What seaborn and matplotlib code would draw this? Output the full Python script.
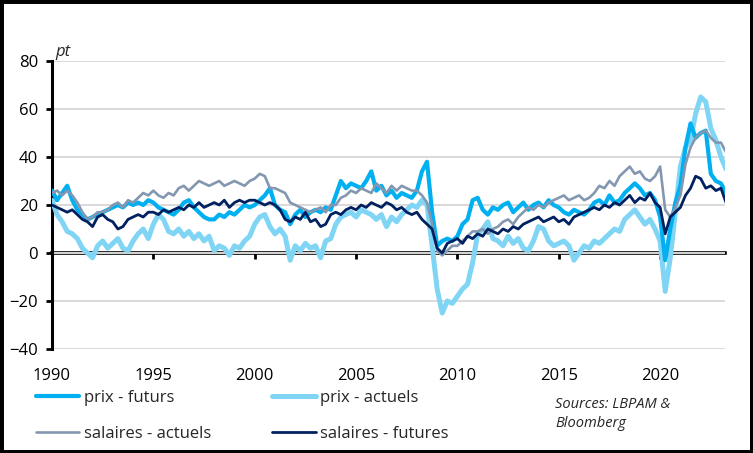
import numpy as np
import pandas as pd
import matplotlib
matplotlib.use("Agg")
import matplotlib.pyplot as plt
from matplotlib.patches import Rectangle
from matplotlib.lines import Line2D
import seaborn as sns

# ---------------- data (quarterly readings, 1990Q1 .. 2023Q2) ----------------
start_year = 1990
prix_futurs = [26, 22, 25, 28, 22, 18, 16, 14, 15, 16, 17, 18, 19, 20, 19, 21,
               20, 21, 20, 22, 21, 19, 18, 17, 16, 18, 21, 22, 19, 17, 15, 14,
               14, 16, 15, 17, 16, 18, 20, 19, 20, 22, 24, 27, 20, 18, 17, 12,
               16, 18, 15, 17, 18, 17, 19, 18, 24, 30, 27, 29, 28, 27, 30, 34,
               26, 28, 24, 26, 23, 25, 24, 23, 26, 34, 38, 17, 3, 5, 6, 5,
               7, 12, 14, 22, 23, 18, 16, 19, 18, 20, 21, 17, 19, 21, 18, 20,
               21, 19, 22, 20, 19, 17, 16, 18, 17, 16, 18, 21, 22, 20, 24, 21,
               22, 25, 27, 29, 27, 24, 25, 22, 15, -3, 10, 21, 28, 44, 54, 48,
               50, 51, 33, 30, 29, 25]
prix_actuels = [22, 16, 13, 9, 8, 6, 2, 0, -2, 3, 5, 2, 4, 6, 2, 1,
                5, 8, 10, 6, 12, 16, 14, 9, 8, 10, 7, 9, 6, 8, 5, 7,
                1, 3, 2, -1, 3, 2, 5, 7, 12, 15, 16, 11, 8, 10, 7, -3,
                3, 1, 4, 2, 3, -2, 5, 6, 12, 15, 16, 17, 15, 18, 17, 16,
                14, 16, 11, 15, 13, 16, 18, 20, 19, 22, 20, 3, -15, -25, -20, -21,
                -18, -15, -13, -4, 8, 10, 13, 6, 5, 3, 7, 4, 6, 2, 1, 5,
                11, 10, 5, 3, 4, 5, 3, -3, 0, 3, 2, 5, 4, 6, 8, 10,
                9, 14, 16, 18, 15, 12, 14, 10, 5, -16, -2, 17, 36, 44, 47, 58,
                65, 63, 52, 47, 40, 35]
salaires_actuels = [25, 26, 24, 26, 24, 21, 17, 14, 15, 17, 17, 18, 20, 21, 19, 22,
                    21, 23, 25, 24, 26, 24, 23, 25, 24, 27, 28, 26, 28, 30, 29, 28,
                    29, 30, 28, 29, 30, 29, 28, 30, 31, 33, 32, 27, 27, 26, 25, 21,
                    20, 19, 18, 17, 18, 19, 17, 20, 20, 23, 24, 26, 25, 27, 26, 25,
                    29, 27, 25, 28, 26, 28, 27, 26, 26, 24, 21, 12, 1, -1, 1, 3,
                    3, 5, 7, 9, 9, 10, 8, 10, 11, 13, 14, 12, 15, 17, 19, 18,
                    20, 19, 21, 22, 23, 24, 22, 23, 24, 22, 23, 25, 28, 27, 30, 28,
                    32, 34, 36, 33, 34, 31, 30, 32, 36, 18, 15, 19, 24, 37, 44, 48,
                    50, 51, 48, 46, 46, 42]
salaires_futures = [20, 19, 18, 17, 18, 16, 14, 13, 11, 15, 16, 14, 13, 10, 11, 14,
                    15, 16, 15, 17, 17, 16, 18, 17, 18, 19, 18, 20, 19, 21, 19, 20,
                    21, 20, 22, 19, 21, 22, 21, 22, 22, 21, 20, 21, 20, 18, 14, 13,
                    15, 14, 17, 13, 14, 11, 12, 16, 17, 16, 18, 19, 18, 20, 19, 21,
                    20, 19, 21, 20, 18, 19, 17, 16, 17, 14, 12, 10, 2, 0, 4, 5,
                    6, 4, 7, 6, 8, 7, 10, 9, 8, 10, 9, 11, 10, 12, 13, 14,
                    15, 13, 14, 15, 13, 14, 12, 15, 16, 17, 18, 19, 18, 20, 19, 21,
                    20, 22, 24, 21, 23, 22, 25, 21, 19, 8, 15, 17, 19, 24, 27, 32,
                    31, 27, 28, 26, 27, 21]

labels = ["prix - futurs", "prix - actuels", "salaires - actuels", "salaires - futures"]
series = [prix_futurs, prix_actuels, salaires_actuels, salaires_futures]
year_ticks = [1990, 1995, 2000, 2005, 2010, 2015, 2020]
y_ticks = [-40, -20, 0, 20, 40, 60, 80]

colors = {"prix - futurs": "#00B0F0", "prix - actuels": "#80D5F5",
          "salaires - actuels": "#8497B0", "salaires - futures": "#002060"}
widths = {"prix - futurs": 3.0, "prix - actuels": 3.6,
          "salaires - actuels": 1.9, "salaires - futures": 2.0}

n = len(prix_futurs)
t = start_year + np.arange(n) / 4.0
df = pd.concat([pd.DataFrame({"t": t, "v": s, "serie": lab}) for lab, s in zip(labels, series)],
               ignore_index=True)

# ---------------- style ----------------
sns.set_theme(style="white")
plt.rcParams["font.family"] = ["Open Sans", "DejaVu Sans"]

fig = plt.figure(figsize=(7.53, 4.53), dpi=100)
ax = fig.add_axes([52 / 753, 1 - 349 / 453, (725 - 52) / 753, (349 - 61) / 453])

draw_order = ["prix - actuels", "prix - futurs", "salaires - actuels", "salaires - futures"]
for lab in draw_order:
    sns.lineplot(data=df[df.serie == lab], x="t", y="v", color=colors[lab],
                 linewidth=widths[lab], ax=ax, legend=False, zorder=3,
                 solid_joinstyle="round")

ax.set_xlim(1990, 2023.2)
ax.set_ylim(-40, 80)
ax.set_xlabel("")
ax.set_ylabel("")
ax.set_yticks(y_ticks)
ax.set_xticks(year_ticks)
ax.set_xticklabels([str(y) for y in year_ticks])
ax.grid(axis="y", color="#D9D9D9", linewidth=1.4)
ax.grid(axis="x", visible=False)
ax.set_axisbelow(True)
for s in ["top", "right", "bottom"]:
    ax.spines[s].set_visible(False)
ax.spines["left"].set_color("black")
ax.spines["left"].set_linewidth(2.2)
ax.tick_params(axis="y", which="major", left=True, direction="out", length=4,
               width=2, color="black", labelsize=12, pad=6, labelcolor="black")
ax.tick_params(axis="x", which="major", bottom=False, length=0, labelsize=12,
               pad=14, labelcolor="black")

# zero axis line with tick marks
sec = ax.secondary_xaxis(40 / 120)
sec.set_xticks(year_ticks)
sec.set_xticklabels([""] * len(year_ticks))
sec.spines["bottom"].set_linewidth(2.6)
sec.spines["bottom"].set_color("black")
sec.tick_params(axis="x", direction="out", length=4, width=2, color="black")

fig.text(55 / 753, 1 - 56 / 453, "pt", style="italic", fontsize=12, va="baseline")
fig.text(555 / 753, 1 - 397 / 453, "Sources: LBPAM &\nBloomberg", style="italic",
         fontsize=10.5, va="top", ha="left", linespacing=1.35)

handles = [Line2D([], [], color=colors[l], linewidth=widths[l]) for l in labels]
order = [0, 2, 1, 3]
fig.legend([handles[i] for i in order], [labels[i] for i in order], ncol=2,
           loc="upper left", bbox_to_anchor=(36 / 753, 1 - 390 / 453), frameon=False,
           fontsize=12, handlelength=2.6, handletextpad=0.25, columnspacing=3.7,
           labelspacing=1.2, borderpad=0, borderaxespad=0)

fig.patches.append(Rectangle((0, 0), 1, 1, transform=fig.transFigure, fill=False,
                             edgecolor="black", linewidth=5, zorder=10))

fig.savefig("out.png", dpi=100, facecolor="white")
